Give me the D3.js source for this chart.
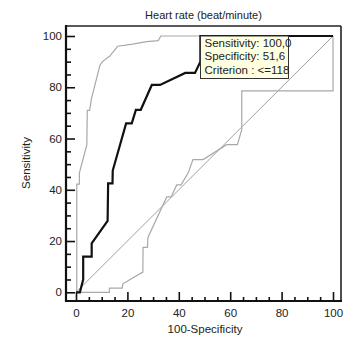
<!DOCTYPE html>
<html><head><meta charset="utf-8">
<script src="https://cdn.jsdelivr.net/npm/d3@7"></script>
<style>body{margin:0;background:#fff;}svg{display:block;font-family:"Liberation Sans",Arial,sans-serif;}</style>
</head><body><svg id="c" width="349" height="340"></svg>
<script>
const title = "Heart rate (beat/minute)";
const xLabel = "100-Specificity";
const yLabel = "Sensitivity";
const majorTicks = [0, 20, 40, 60, 80, 100];
const minorTicks = [5,10,15,25,30,35,45,50,55,65,70,75,85,90,95];
// ROC curve (100-Specificity, Sensitivity)
const rocX = [0,1.5,2.8,2.8,6.1,6.1,12.3,12.5,14.2,14.3,19.5,21.7,23.3,25.2,29.5,32.7,42.5,46.3,48.4,48.4,100];
const rocY = [0,0,5,13.9,13.9,19.1,27.9,42.5,42.5,47.5,65.9,65.9,71.2,71.2,80.9,80.9,85.6,85.6,90,100,100];
// Upper confidence bound
const upX = [0,0.3,0.3,1.3,1.3,4.2,4.4,5.3,6,9.3,10.3,12.2,13,16.2,22,27.5,32,33,100];
const upY = [0,0,42.2,42.2,46.5,57.5,71,71,75.5,88.5,90,91.5,92,96,96.8,97.8,98.2,100,100];
// Lower confidence bound
const loX = [0,13,13,18,18.2,26,26.1,27.8,28,35.3,37,39.2,40.9,43.7,45.5,49.5,58.6,62.8,64.5,64.5,100,100];
const loY = [0,0,1.6,1.6,3.3,7.9,17.5,17.5,21.4,37.2,37.2,41.9,41.9,46.7,51.8,51.8,57.6,57.6,63.5,78.6,78.6,100];
const refLine = [[0,0],[100,100]];
const tipLines = ["Sensitivity: 100,0", "Specificity: 51,6", "Criterion : <=118"];

const svg = d3.select("#c");
const frame = {l:66, t:26, r:341, b:301};
const x = d3.scaleLinear().domain([0,100]).range([76,333]);
const y = d3.scaleLinear().domain([0,100]).range([292.3,36]);
const line = d3.line().x(d=>x(d[0])).y(d=>y(d[1]));
const zip = (a,b)=>a.map((v,i)=>[v,b[i]]);

// diagonal
svg.append("path").datum(refLine).attr("d", line).attr("fill","none").attr("stroke","#a0a0a0").attr("stroke-width",1);
// confidence bounds
svg.append("path").datum(zip(upX,upY)).attr("d", line).attr("fill","none").attr("stroke","#a8a8a8").attr("stroke-width",1.2);
svg.append("path").datum(zip(loX,loY)).attr("d", line).attr("fill","none").attr("stroke","#a8a8a8").attr("stroke-width",1.2);
// ROC
svg.append("path").datum(zip(rocX,rocY)).attr("d", line).attr("fill","none").attr("stroke","#111").attr("stroke-width",2.2).attr("stroke-linejoin","miter");

// frame
svg.append("line").attr("x1",frame.l).attr("x2",frame.r).attr("y1",frame.t).attr("y2",frame.t).attr("stroke","#222").attr("stroke-width",1.6);
svg.append("line").attr("x1",frame.r).attr("x2",frame.r).attr("y1",frame.t).attr("y2",frame.b).attr("stroke","#222").attr("stroke-width",1.6);
svg.append("line").attr("x1",frame.l).attr("x2",frame.l).attr("y1",frame.t-1).attr("y2",frame.b+1).attr("stroke","#111").attr("stroke-width",2.2);
svg.append("line").attr("x1",frame.l-1).attr("x2",frame.r+1).attr("y1",frame.b).attr("y2",frame.b).attr("stroke","#111").attr("stroke-width",2.2);

function styleAxis(g){
  g.select(".domain").remove();
  g.selectAll("line").attr("stroke","#111").attr("stroke-width",1.6);
  g.selectAll("text").attr("fill","#222").style("font-size","11.5px").style("font-family","Liberation Sans, Arial, sans-serif");
}
svg.append("g").attr("transform",`translate(0,${frame.b})`)
  .call(d3.axisBottom(x).tickValues(majorTicks).tickSize(-9).tickPadding(8).tickFormat(d3.format("d"))).call(styleAxis);
svg.append("g").attr("transform",`translate(0,${frame.b})`)
  .call(d3.axisBottom(x).tickValues(minorTicks).tickSize(-4).tickFormat("")).call(styleAxis);
svg.append("g").attr("transform",`translate(${frame.l},0)`)
  .call(d3.axisLeft(y).tickValues(majorTicks).tickSize(-9).tickPadding(4).tickFormat(d3.format("d"))).call(styleAxis);
svg.append("g").attr("transform",`translate(${frame.l},0)`)
  .call(d3.axisLeft(y).tickValues(minorTicks).tickSize(-5).tickFormat("")).call(styleAxis);

// titles
svg.append("text").attr("x",(frame.l+frame.r)/2).attr("y",19).attr("text-anchor","middle").attr("fill","#222").style("font-size","11px").text(title);
svg.append("text").attr("x",205).attr("y",333).attr("text-anchor","middle").attr("fill","#222").style("font-size","11.5px").text(xLabel);
svg.append("text").attr("transform","translate(30,163) rotate(-90)").attr("text-anchor","middle").attr("fill","#222").style("font-size","11.5px").text(yLabel);

// tooltip
const tip = svg.append("g").attr("transform",`translate(200.5,${y(100)})`);
tip.append("rect").attr("width",88).attr("height",42.5).attr("fill","#ffffe1").attr("stroke","#333").attr("stroke-width",1);
tip.selectAll("text").data(tipLines).join("text").attr("x",4).attr("y",(d,i)=>11+i*13.3).attr("fill","#222").style("font-size","11.5px").text(d=>d);
</script></body></html>
